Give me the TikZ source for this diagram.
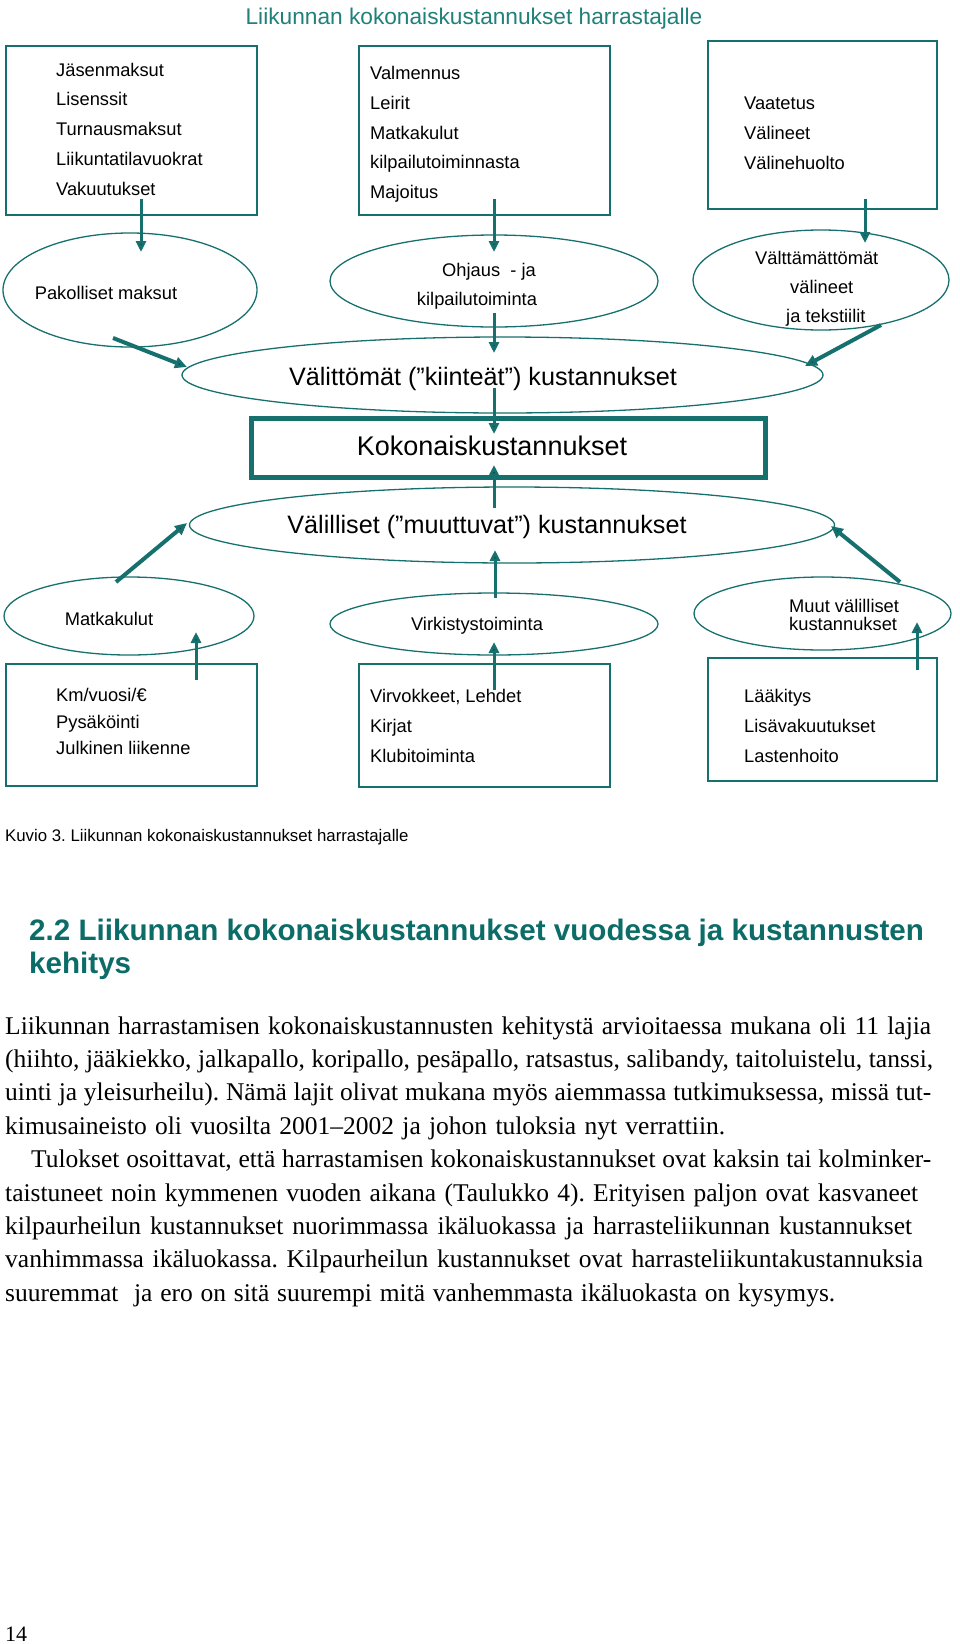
\documentclass[tikz,border=0pt]{standalone}
\usepackage{fontspec}
\setmainfont{Liberation Serif}
\newfontfamily\dsans{Liberation Sans}
\usetikzlibrary{arrows.meta,shapes.geometric}
\definecolor{lineteal}{RGB}{22,112,110}
\definecolor{tipdark}{RGB}{10,60,62}
\definecolor{titleteal}{RGB}{32,128,122}
\definecolor{headteal}{RGB}{12,108,104}
\frenchspacing
\begin{document}
\begin{tikzpicture}[x=1pt,y=-1pt,
  box/.style={draw=lineteal, line width=1.5pt, inner sep=0pt},
  ell/.style={draw=lineteal, ellipse, line width=1.3pt, inner sep=0pt},
  lbl/.style={inner sep=0pt, anchor=base west, font=\dsans\fontsize{18.3}{18.3}\selectfont},
  clbl/.style={lbl, anchor=base},
  biglbl/.style={inner sep=0pt, anchor=base, font=\dsans\fontsize{25.2}{25.2}\selectfont},
  varrow/.style={draw=lineteal, line width=3pt, -{Triangle[length=11pt,width=10pt,fill=tipdark]}},
  darrow/.style={draw=lineteal, line width=4pt, -{Triangle[length=12pt,width=11pt,fill=tipdark]}},
  bodyline/.style={inner sep=0pt, anchor=base west, font=\frenchspacing\fontsize{25.5}{25.5}\selectfont},
]
\useasboundingbox (0,0) rectangle (960,1644);

% title
\node[inner sep=0pt, anchor=base, text=titleteal, font=\dsans\fontsize{22.7}{22.7}\selectfont] (title) at (474,24) {Liikunnan kokonaiskustannukset harrastajalle};

% top boxes
\node[box, minimum width=251pt, minimum height=169pt] (b1) at (131.5,130.5) {};
\node[box, minimum width=251pt, minimum height=169pt] (b2) at (484.5,130.5) {};
\node[box, minimum width=229pt, minimum height=168pt] (b3) at (822.5,125) {};

\node[lbl] (t1a) at (56,76) {Jäsenmaksut};
\node[lbl] (t1b) at (56,105.75) {Lisenssit};
\node[lbl] (t1c) at (56,135.5) {Turnausmaksut};
\node[lbl] (t1d) at (56,165.25) {Liikuntatilavuokrat};
\node[lbl] (t1e) at (56,195) {Vakuutukset};

\node[lbl] (t2a) at (370,79.5) {Valmennus};
\node[lbl] (t2b) at (370,109.25) {Leirit};
\node[lbl] (t2c) at (370,139) {Matkakulut};
\node[lbl] (t2d) at (370,168.75) {kilpailutoiminnasta};
\node[lbl] (t2e) at (370,198.5) {Majoitus};

\node[lbl] (t3a) at (744,109.5) {Vaatetus};
\node[lbl] (t3b) at (744,139.25) {Välineet};
\node[lbl] (t3c) at (744,169) {Välinehuolto};

% upper ellipses
\node[ell, minimum width=254pt, minimum height=114pt] (e1) at (130,290) {};
\node[ell, minimum width=328pt, minimum height=92pt] (e2) at (494,281) {};
\node[ell, minimum width=256pt, minimum height=100pt] (e3) at (821,280) {};

\node[clbl] (te1) at (106,299) {Pakolliset maksut};
\node[clbl] (te2a) at (489,276) {Ohjaus\ \ - ja};
\node[clbl] (te2b) at (477,305) {kilpailutoiminta};
\node[lbl] (te3a) at (755,264) {Välttämättömät};
\node[lbl] (te3b) at (790,293) {välineet};
\node[lbl] (te3c) at (786,322) {ja tekstiilit};

% direct costs
\node[ell, minimum width=641pt, minimum height=76pt] (e4) at (502.5,375) {};
\node[biglbl] (te4) at (483,385) {Välittömät (”kiinteät”) kustannukset};

% total
\node[draw=lineteal, line width=5pt, inner sep=0pt, minimum width=514pt, minimum height=59.5pt] (bk) at (508,447.75) {};
\node[inner sep=0pt, anchor=base, font=\dsans\fontsize{27}{27}\selectfont] (tk) at (492,455) {Kokonaiskustannukset};

% indirect costs
\node[ell, minimum width=645pt, minimum height=76pt] (e5) at (512,525) {};
\node[biglbl] (te5) at (487,533) {Välilliset (”muuttuvat”) kustannukset};

% lower ellipses
\node[ell, minimum width=250pt, minimum height=78pt] (e6) at (129,616) {};
\node[ell, minimum width=328pt, minimum height=62pt] (e7) at (494,624) {};
\node[ell, minimum width=257pt, minimum height=73pt] (e8) at (822.5,613.5) {};

\node[clbl] (te6) at (109,625) {Matkakulut};
\node[clbl] (te7) at (477,630) {Virkistystoiminta};
\node[lbl] (te8a) at (789,612) {Muut välilliset};
\node[lbl] (te8b) at (789,630) {kustannukset};

% bottom boxes
\node[box, minimum width=251pt, minimum height=122pt] (b4) at (131.5,725) {};
\node[box, line width=2.4pt, minimum width=251pt, minimum height=123pt] (b5) at (484.5,725.5) {};
\node[box, minimum width=229pt, minimum height=123pt] (b6) at (822.5,719.5) {};

\node[lbl] (t4a) at (56,701) {Km/vuosi/€};
\node[lbl] (t4b) at (56,728) {Pysäköinti};
\node[lbl] (t4c) at (56,754) {Julkinen liikenne};

\node[lbl] (t5a) at (370,702) {Virvokkeet, Lehdet};
\node[lbl] (t5b) at (370,732) {Kirjat};
\node[lbl] (t5c) at (370,762) {Klubitoiminta};

\node[lbl] (t6a) at (744,702) {Lääkitys};
\node[lbl] (t6b) at (744,732) {Lisävakuutukset};
\node[lbl] (t6c) at (744,762) {Lastenhoito};

% arrow end points
\coordinate (a1s) at (141,199); \coordinate (a1e) at (141,252);
\coordinate (a2s) at (494,199); \coordinate (a2e) at (494,252);
\coordinate (a3s) at (865,199); \coordinate (a3e) at (865,243);
\coordinate (d1s) at (113,338); \coordinate (d1e) at (187,367);
\coordinate (d2s) at (881,325); \coordinate (d2e) at (805,366);
\coordinate (m1s) at (494,313); \coordinate (m1e) at (494,353);
\coordinate (k1s) at (494,388); \coordinate (k1e) at (494,434);
\coordinate (k2s) at (494,508); \coordinate (k2e) at (494,465);
\coordinate (u1s) at (116,582); \coordinate (u1e) at (187,523);
\coordinate (u2s) at (900,582); \coordinate (u2e) at (831,526);
\coordinate (m2s) at (495,598); \coordinate (m2e) at (495,550);
\coordinate (c1s) at (196,680); \coordinate (c1e) at (196,632);
\coordinate (c2s) at (494,690); \coordinate (c2e) at (494,642);
\coordinate (c3s) at (917,670); \coordinate (c3e) at (917,622);

\draw[varrow] (a1s) -- (a1e);
\draw[varrow] (a2s) -- (a2e);
\draw[varrow] (a3s) -- (a3e);
\draw[darrow] (d1s) -- (d1e);
\draw[darrow] (d2s) -- (d2e);
\draw[varrow] (m1s) -- (m1e);
\draw[varrow] (k1s) -- (k1e);
\draw[varrow] (k2s) -- (k2e);
\draw[darrow] (u1s) -- (u1e);
\draw[darrow] (u2s) -- (u2e);
\draw[varrow] (m2s) -- (m2e);
\draw[varrow] (c1s) -- (c1e);
\draw[varrow] (c2s) -- (c2e);
\draw[varrow] (c3s) -- (c3e);

% caption
\node[inner sep=0pt, anchor=base west, font=\dsans\fontsize{16.8}{16.8}\selectfont] (cap) at (5,841) {Kuvio 3. Liikunnan kokonaiskustannukset harrastajalle};

% heading
\node[inner sep=0pt, anchor=base west, text=headteal, font=\dsans\bfseries\fontsize{29.6}{29.6}\selectfont] (h1) at (29,940) {2.2 Liikunnan kokonaiskustannukset vuodessa ja kustannusten};
\node[inner sep=0pt, anchor=base west, text=headteal, font=\dsans\bfseries\fontsize{29.6}{29.6}\selectfont] (h2) at (29,973) {kehitys};

% body text
\node[bodyline] (p1) at (5,1034) {\makebox[926pt][s]{Liikunnan harrastamisen kokonaiskustannusten kehitystä arvioitaessa mukana oli 11 lajia}};
\node[bodyline] (p2) at (5,1067.4) {\makebox[928pt][s]{(hiihto, jääkiekko, jalkapallo, koripallo, pesäpallo, ratsastus, salibandy, taitoluistelu, tanssi,}};
\node[bodyline] (p3) at (5,1100.8) {\makebox[926pt][s]{uinti ja yleisurheilu). Nämä lajit olivat mukana myös aiemmassa tutkimuksessa, missä tut-}};
\node[bodyline] (p4) at (5,1134.2) {\makebox[720pt][s]{kimusaineisto oli vuosilta 2001–2002 ja johon tuloksia nyt verrattiin.}};
\node[bodyline] (p5) at (31,1167.6) {\makebox[900pt][s]{Tulokset osoittavat, että harrastamisen kokonaiskustannukset ovat kaksin tai kolminker-}};
\node[bodyline] (p6) at (5,1201) {\makebox[913pt][s]{taistuneet noin kymmenen vuoden aikana (Taulukko 4). Erityisen paljon ovat kasvaneet}};
\node[bodyline] (p7) at (5,1234.4) {\makebox[907pt][s]{kilpaurheilun kustannukset nuorimmassa ikäluokassa ja harrasteliikunnan kustannukset}};
\node[bodyline] (p8) at (5,1267.8) {\makebox[918pt][s]{vanhimmassa ikäluokassa. Kilpaurheilun kustannukset ovat harrasteliikuntakustannuksia}};
\node[bodyline] (p9) at (5,1301.2) {\makebox[830pt][s]{suuremmat\ \ ja ero on sitä suurempi mitä vanhemmasta ikäluokasta on kysymys.}};

% page number
\node[inner sep=0pt, anchor=base west, font=\fontsize{22}{22}\selectfont] (pg) at (5,1641) {14};
\end{tikzpicture}
\end{document}
